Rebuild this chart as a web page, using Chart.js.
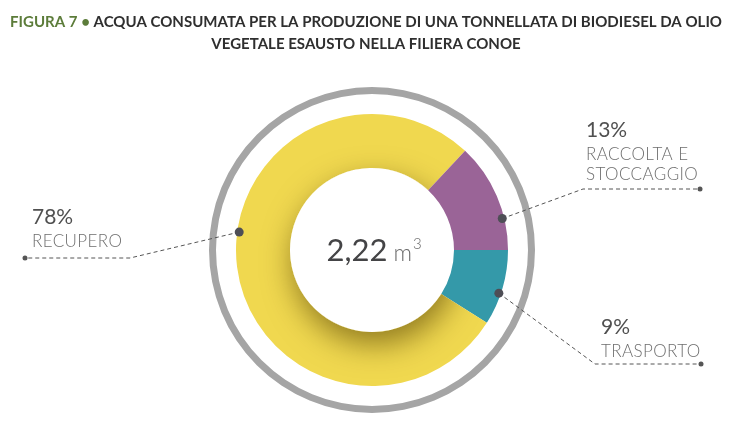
<!DOCTYPE html>
<html>
<head>
<meta charset="utf-8">
<script src="https://cdn.jsdelivr.net/npm/chart.js@4.4.1/dist/chart.umd.min.js"></script>
<style>
  html, body { margin: 0; padding: 0; background: #fff; }
  #wrap { width: 732px; height: 422px; position: relative; }
</style>
</head>
<body>
<div id="wrap"><canvas id="grafico" width="732" height="422"></canvas></div>
<script>
// dati
const etichette = ["TRASPORTO", "RECUPERO", "RACCOLTA E STOCCAGGIO"];
const percentuali = [9, 78, 13];
const colori = ["#3499a9", "#f0d84f", "#9a6497"];
const totale = "2,22";
const unita = "m";

const titoloVerde = "FIGURA 7 \u2022 ";
const titoloRiga1 = "ACQUA CONSUMATA PER LA PRODUZIONE DI UNA TONNELLATA DI BIODIESEL DA OLIO";
const titoloRiga2 = "VEGETALE ESAUSTO NELLA FILIERA CONOE";

// posizione delle etichette esterne (solo layout)
const etichetteLayout = [
    { pct: "9%", righe: ["TRASPORTO"], x: 601, y: 334, gomito: [595, 364], fine: [701, 364], frazione: 0.58 },
    { pct: "78%", righe: ["RECUPERO"], x: 32, y: 224, gomito: [130, 258], fine: [25, 258], frazione: 0.553 },
    { pct: "13%", righe: ["RACCOLTA E", "STOCCAGGIO"], x: 586, y: 137, gomito: [583, 189], fine: [700, 189], frazione: 0.71 }
];

const pluginDecorazioni = {
    id: "decorazioni",
    afterDatasetsDraw(chart) {
        const ctx = chart.ctx;
        const meta = chart.getDatasetMeta(2);
        const giallo = meta.data[1];
        const p = giallo.getProps(["x", "y", "startAngle", "endAngle", "innerRadius", "outerRadius"], true);

        // ombra interna sul settore giallo
        ctx.save();
        ctx.beginPath();
        ctx.arc(p.x, p.y, p.outerRadius, p.startAngle, p.endAngle);
        ctx.arc(p.x, p.y, p.innerRadius, p.endAngle, p.startAngle, true);
        ctx.closePath();
        ctx.clip();
        ctx.beginPath();
        ctx.arc(p.x, p.y, p.innerRadius, 0, Math.PI * 2);
        ctx.shadowColor = "rgba(80, 60, 0, 0.6)";
        ctx.shadowBlur = 30;
        ctx.shadowOffsetX = 3;
        ctx.shadowOffsetY = 12;
        ctx.fillStyle = "#fff";
        ctx.fill();
        ctx.restore();

        // linee guida ed etichette
        meta.data.forEach((arco, i) => {
            const a = arco.getProps(["x", "y", "startAngle", "endAngle", "outerRadius"], true);
            const lay = etichetteLayout[i];
            const ang = a.startAngle + (a.endAngle - a.startAngle) * lay.frazione;
            const r = a.outerRadius - 2;
            const ax = a.x + Math.cos(ang) * r;
            const ay = a.y + Math.sin(ang) * r;

            ctx.save();
            ctx.strokeStyle = "#555";
            ctx.lineWidth = 1;
            ctx.setLineDash([4, 3]);
            ctx.beginPath();
            ctx.moveTo(ax, ay);
            ctx.lineTo(lay.gomito[0], lay.gomito[1]);
            ctx.lineTo(lay.fine[0], lay.fine[1]);
            ctx.stroke();
            ctx.setLineDash([]);
            ctx.fillStyle = "#4e4e56";
            ctx.beginPath();
            ctx.arc(ax, ay, 4.5, 0, Math.PI * 2);
            ctx.fill();
            ctx.fillStyle = "#555";
            ctx.beginPath();
            ctx.arc(lay.fine[0], lay.fine[1], 2.5, 0, Math.PI * 2);
            ctx.fill();

            ctx.textAlign = "left";
            ctx.textBaseline = "alphabetic";
            ctx.fillStyle = "#505050";
            ctx.font = "400 21px Lato";
            ctx.fillText(lay.pct, lay.x, lay.y);
            ctx.fillStyle = "#6e6e6e";
            ctx.font = "300 17px Lato";
            ctx.letterSpacing = "0.4px";
            lay.righe.forEach((riga, k) => {
                ctx.fillText(riga, lay.x, lay.y + 23 + k * 20);
            });
            ctx.restore();
        });

        // testo centrale
        ctx.save();
        ctx.textBaseline = "alphabetic";
        ctx.textAlign = "left";
        ctx.fillStyle = "#444446";
        const cx = p.x, cy = p.y;
        ctx.font = "400 31px Lato";
        const w1 = ctx.measureText(totale).width;
        ctx.font = "300 23px Lato";
        const w2 = ctx.measureText(unita).width;
        ctx.font = "300 15px Lato";
        const w3 = ctx.measureText("3").width;
        const larg = w1 + 6 + w2 + 1 + w3;
        let x0 = cx - larg / 2 + 2;
        ctx.font = "400 31px Lato";
        ctx.fillText(totale, x0, cy + 11);
        ctx.fillStyle = "#6a6a6a";
        ctx.font = "300 23px Lato";
        ctx.fillText(unita, x0 + w1 + 6, cy + 11);
        ctx.font = "300 15px Lato";
        ctx.fillText("3", x0 + w1 + 6 + w2 + 1, cy - 1);
        ctx.restore();

        // titolo
        ctx.save();
        ctx.font = "700 15px Lato";
        ctx.textBaseline = "alphabetic";
        ctx.textAlign = "left";
        const wv = ctx.measureText(titoloVerde).width;
        const wr1 = ctx.measureText(titoloRiga1).width;
        const scala = 712 / (wv + wr1);
        ctx.translate(366, 0);
        ctx.scale(scala, 1);
        const inizio = -(wv + wr1) / 2;
        ctx.fillStyle = "#5c7c3a";
        ctx.fillText(titoloVerde, inizio, 27);
        ctx.fillStyle = "#2f2f2f";
        ctx.fillText(titoloRiga1, inizio + wv, 27);
        ctx.textAlign = "center";
        ctx.fillText(titoloRiga2, 0, 49);
        ctx.restore();
    }
};

const ctx = document.getElementById("grafico").getContext("2d");
new Chart(ctx, {
    type: "doughnut",
    data: {
        labels: etichette,
        datasets: [
            { data: [1], backgroundColor: ["#a5a5a5"], borderWidth: 0, weight: 7 },
            { data: [1], backgroundColor: ["rgba(0,0,0,0)"], borderWidth: 0, weight: 20 },
            { data: percentuali, backgroundColor: colori, borderWidth: 0, weight: 54 }
        ]
    },
    options: {
        responsive: false,
        animation: false,
        rotation: 90,
        cutout: 82,
        layout: { padding: { top: 87, bottom: 9, left: 100, right: 88 } },
        plugins: {
            legend: { display: false },
            tooltip: { enabled: false }
        },
        events: []
    },
    plugins: [pluginDecorazioni]
});
</script>
</body>
</html>
